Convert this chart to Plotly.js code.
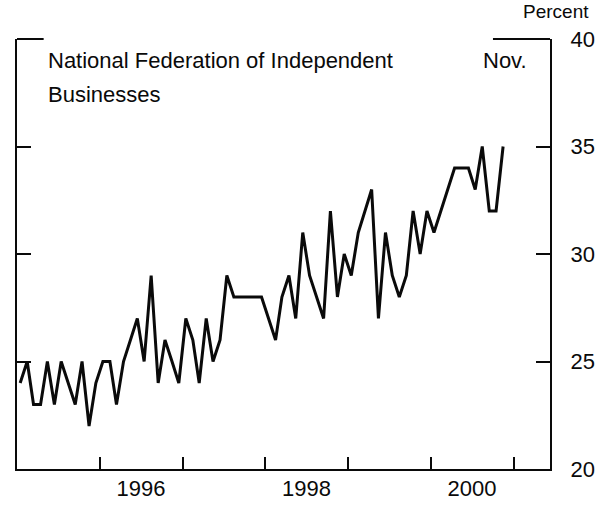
<!DOCTYPE html>
<html>
<head>
<meta charset="utf-8">
<script src="https://cdn.plot.ly/plotly-3.0.1.min.js"></script>
<style>
  html, body { margin: 0; padding: 0; background: #fff; }
  #chart { width: 610px; height: 506px; }
</style>
</head>
<body>
<div id="chart"></div>
<script>
// Monthly survey values (percent), Jan 1995 .. Nov 2000
const months = [
  '1995-01','1995-02','1995-03','1995-04','1995-05','1995-06','1995-07','1995-08','1995-09','1995-10','1995-11','1995-12',
  '1996-01','1996-02','1996-03','1996-04','1996-05','1996-06','1996-07','1996-08','1996-09','1996-10','1996-11','1996-12',
  '1997-01','1997-02','1997-03','1997-04','1997-05','1997-06','1997-07','1997-08','1997-09','1997-10','1997-11','1997-12',
  '1998-01','1998-02','1998-03','1998-04','1998-05','1998-06','1998-07','1998-08','1998-09','1998-10','1998-11','1998-12',
  '1999-01','1999-02','1999-03','1999-04','1999-05','1999-06','1999-07','1999-08','1999-09','1999-10','1999-11','1999-12',
  '2000-01','2000-02','2000-03','2000-04','2000-05','2000-06','2000-07','2000-08','2000-09','2000-10','2000-11'
];
const values = [
  24,25,23,23,25,23,25,24,23,25,22,24,
  25,25,23,25,26,27,25,29,24,26,25,24,
  27,26,24,27,25,26,29,28,28,28,28,28,
  27,26,28,29,27,31,29,28,27,32,28,30,
  29,31,32,33,27,31,29,28,29,32,30,32,
  31,32,33,34,34,34,33,35,32,32,35
];
const yearTicks = ['1995-01-01','1996-01-01','1997-01-01','1998-01-01','1999-01-01','2000-01-01','2001-01-01'];
const yearLabelPos = ['1996-07-01','1998-07-01','2000-07-01'];
const yearLabels = ['1996','1998','2000'];
const yTicks = [20,25,30,35,40];

const xDates = months.map(m => m + '-15');
const xRange = ['1995-01-01','2001-06-10'];
const FONT = 'Liberation Sans, Arial, sans-serif';
const INK = '#0a0a0a';

const trace = {
  x: xDates, y: values, type: 'scatter', mode: 'lines',
  line: {color: INK, width: 3},
  hoverinfo: 'skip', showlegend: false
};
// invisible carrier so the label axis (x2) is drawn
const labelCarrier = {
  x: yearLabelPos, y: [null, null, null], xaxis: 'x2', yaxis: 'y',
  type: 'scatter', mode: 'lines', hoverinfo: 'skip', showlegend: false
};

const layout = {
  width: 610, height: 506,
  margin: {l: 17, r: 60, t: 39, b: 37},
  paper_bgcolor: '#fff', plot_bgcolor: '#fff',
  font: {family: FONT, size: 22, color: INK},
  showlegend: false,
  xaxis: {
    type: 'date', range: xRange, tickmode: 'array', tickvals: yearTicks,
    showticklabels: false, ticks: 'inside', ticklen: 12, tickwidth: 2, tickcolor: INK,
    showline: true, linecolor: INK, linewidth: 2, showgrid: false, zeroline: false
  },
  xaxis2: {
    type: 'date', range: xRange, overlaying: 'x', anchor: 'y', side: 'bottom',
    tickmode: 'array', tickvals: yearLabelPos, ticktext: yearLabels,
    ticks: '', showline: false, showgrid: false, zeroline: false,
    tickfont: {family: FONT, size: 22, color: INK}, ticklabelstandoff: 4
  },
  yaxis: {
    range: [20, 40], side: 'right', tickmode: 'array', tickvals: yTicks,
    ticks: 'inside', ticklen: 14, tickwidth: 2, tickcolor: INK, mirror: 'ticks',
    showline: true, linecolor: INK, linewidth: 2, showgrid: false, zeroline: false,
    tickfont: {family: FONT, size: 22, color: INK}, ticklabelstandoff: 14
  },
  shapes: [
    {type: 'line', xref: 'paper', yref: 'paper', x0: 0, x1: 0.05, y0: 1, y1: 1, line: {color: INK, width: 2}},
    {type: 'line', xref: 'paper', yref: 'paper', x0: 0.893, x1: 1, y0: 1, y1: 1, line: {color: INK, width: 2}}
  ],
  annotations: [
    {text: 'National Federation of Independent', xref: 'paper', yref: 'paper', x: 0.054, y: 0.951,
     xanchor: 'left', yanchor: 'middle', showarrow: false, font: {family: FONT, size: 22, color: INK}},
    {text: 'Businesses', xref: 'paper', yref: 'paper', x: 0.054, y: 0.870,
     xanchor: 'left', yanchor: 'middle', showarrow: false, font: {family: FONT, size: 22, color: INK}},
    {text: 'Nov.', xref: 'paper', yref: 'paper', x: 0.9156, y: 0.951,
     xanchor: 'center', yanchor: 'middle', showarrow: false, font: {family: FONT, size: 22, color: INK}},
    {text: 'Percent', xref: 'paper', yref: 'paper', x: 1.012, y: 1.063,
     xanchor: 'center', yanchor: 'middle', showarrow: false, font: {family: FONT, size: 19, color: INK}}
  ]
};

Plotly.newPlot('chart', [trace, labelCarrier], layout, {staticPlot: true, displayModeBar: false});
</script>
</body>
</html>
